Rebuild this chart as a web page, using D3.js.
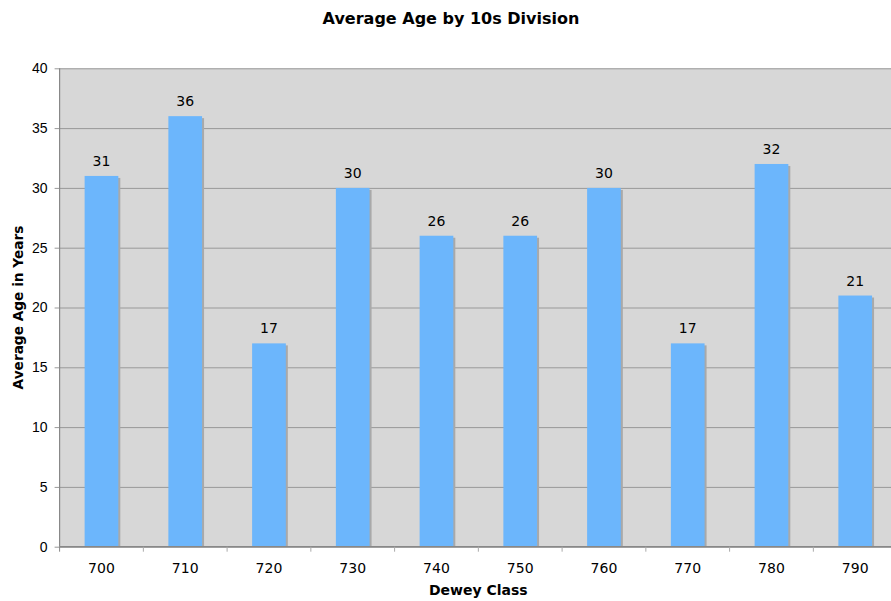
<!DOCTYPE html>
<html>
<head>
<meta charset="utf-8">
<script src="https://cdn.jsdelivr.net/npm/d3@7"></script>
<style>
  html, body { margin: 0; padding: 0; background: #fff; overflow: hidden; }
  svg { display: block; font-family: "DejaVu Sans", Verdana, sans-serif; }
</style>
</head>
<body>
<svg id="chart" width="891" height="601"></svg>
<script>
// Average age per Dewey 10s division
const categories = ["700", "710", "720", "730", "740", "750", "760", "770", "780", "790"];
const values = [31, 36, 17, 30, 26, 26, 30, 17, 32, 21];
const yTicks = [0, 5, 10, 15, 20, 25, 30, 35, 40];

const svg = d3.select("#chart");
const margin = { left: 59.6, top: 68.3, bottom: 54.3 };
const plotRight = 897.1;          // plot runs slightly past the frame edge
const H = 601;

const x = d3.scaleBand().domain(categories).range([margin.left, plotRight]).paddingInner(0).paddingOuter(0);
const y = d3.scaleLinear().domain([0, 40]).range([H - margin.bottom, margin.top]);

// plot background
svg.append("rect")
  .attr("x", margin.left).attr("y", margin.top)
  .attr("width", plotRight - margin.left).attr("height", y(0) - margin.top)
  .attr("fill", "#d7d7d7");

// horizontal gridlines with small outer ticks
const yAxis = d3.axisLeft(y).tickValues(yTicks).tickSize(-(plotRight - margin.left)).tickPadding(12).tickSizeOuter(0);
const gy = svg.append("g").attr("transform", `translate(${margin.left},0)`).call(yAxis);
gy.select(".domain").remove();
gy.selectAll(".tick line").attr("stroke", "#999").attr("stroke-width", 1).attr("x1", -5);
gy.selectAll(".tick text").attr("font-size", 14).attr("fill", "#000").attr("x", -12);

// bars with a soft drop shadow on the right
const barW = 33.7;
const bars = svg.append("g");
bars.selectAll("rect.shadow").data(values).join("rect")
  .attr("class", "shadow")
  .attr("x", (d, i) => x(categories[i]) + (x.bandwidth() - barW) / 2 + 2)
  .attr("y", d => y(d) + 2)
  .attr("width", barW)
  .attr("height", d => y(0) - y(d) - 2)
  .attr("fill", "#a9a9a9");
bars.selectAll("rect.bar").data(values).join("rect")
  .attr("class", "bar")
  .attr("x", (d, i) => x(categories[i]) + (x.bandwidth() - barW) / 2)
  .attr("y", d => y(d))
  .attr("width", barW)
  .attr("height", d => y(0) - y(d))
  .attr("fill", "#6cb6fc");

// value labels
svg.append("g").selectAll("text").data(values).join("text")
  .attr("x", (d, i) => x(categories[i]) + x.bandwidth() / 2)
  .attr("y", d => y(d) - 10)
  .attr("text-anchor", "middle")
  .attr("font-size", 14)
  .attr("fill", "#000")
  .text(d => d);

// left axis line
svg.append("line")
  .attr("x1", margin.left).attr("x2", margin.left)
  .attr("y1", margin.top).attr("y2", y(0))
  .attr("stroke", "#888").attr("stroke-width", 1.2);

// bottom axis with category boundary ticks
const gx = svg.append("g").attr("transform", `translate(0,${y(0)})`);
gx.append("line")
  .attr("x1", margin.left).attr("x2", plotRight)
  .attr("stroke", "#888").attr("stroke-width", 1.5);
gx.selectAll("line.tick").data(categories.slice(1)).join("line")
  .attr("class", "tick")
  .attr("x1", d => x(d)).attr("x2", d => x(d))
  .attr("y1", 0).attr("y2", 5)
  .attr("stroke", "#aaa");
gx.selectAll("line.tick0").data([categories[0]]).join("line")
  .attr("x1", d => x(d)).attr("x2", d => x(d))
  .attr("y1", 0).attr("y2", 5)
  .attr("stroke", "#888");
gx.selectAll("text").data(categories).join("text")
  .attr("x", d => x(d) + x.bandwidth() / 2)
  .attr("y", 26)
  .attr("text-anchor", "middle")
  .attr("font-size", 14)
  .attr("fill", "#000")
  .text(d => d);

// titles
svg.append("text")
  .attr("x", 451).attr("y", 24)
  .attr("text-anchor", "middle")
  .attr("font-size", 16).attr("font-weight", "bold")
  .text("Average Age by 10s Division");

svg.append("text")
  .attr("x", (margin.left + plotRight) / 2).attr("y", 595)
  .attr("text-anchor", "middle")
  .attr("font-size", 14).attr("font-weight", "bold")
  .text("Dewey Class");

svg.append("text")
  .attr("transform", `translate(23,${(margin.top + y(0)) / 2}) rotate(-90)`)
  .attr("text-anchor", "middle")
  .attr("font-size", 13.7).attr("font-weight", "bold")
  .text("Average Age in Years");
</script>
</body>
</html>
